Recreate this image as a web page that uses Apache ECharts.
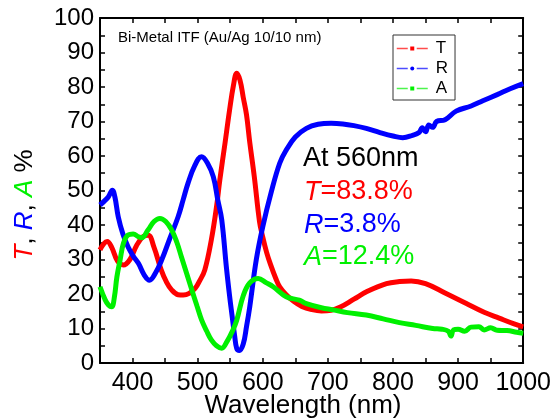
<!DOCTYPE html>
<html>
<head>
<meta charset="utf-8">
<script src="https://cdn.jsdelivr.net/npm/echarts@6/dist/echarts.min.js"></script>
<style>
  html, body { margin: 0; padding: 0; background: #fff; }
  #chart { width: 554px; height: 419px; }
</style>
</head>
<body>
<div id="chart"></div>
<script>
// values (wavelength nm / percent)
const seriesNames = ['T', 'R', 'A'];

const tWave = [350, 356, 361, 368, 377, 386, 396, 406, 416, 424, 433, 444, 452, 460, 470, 478, 487, 496, 503, 511, 521, 529, 534, 542, 549, 555, 560, 565, 570, 575, 580, 587, 595, 600, 606, 612, 620, 626, 636, 648, 660, 675, 690, 705, 720, 740, 760, 790, 810, 828, 850, 880, 912, 940, 963, 985, 1000];
const tPct  = [32.8, 34.6, 35.2, 33.5, 29.5, 28.4, 30, 34, 36.6, 37, 33.5, 27, 23.5, 21.2, 19.8, 19.7, 20.2, 21.6, 23.8, 27, 35.7, 45.3, 53, 63.7, 73.3, 80.5, 84, 82, 77, 72, 64, 54, 41, 36.5, 32, 28.5, 24.5, 22.1, 19.8, 17.8, 16.4, 15.5, 15.1, 15.3, 16.3, 18.5, 20.7, 23, 23.6, 23.8, 23, 20.3, 17.3, 14.7, 13, 11.4, 10.5];

const rWave = [350, 357, 363, 369, 373, 378, 385, 393, 401, 409, 418, 426, 435, 445, 457, 470, 478, 485, 495, 506, 515, 524, 531, 537, 544, 549, 553, 557, 560, 564, 570, 575, 580, 590, 600, 613, 626, 636, 650, 667, 685, 705, 723, 740, 759, 780, 800, 815, 830, 840, 845, 850, 855, 861, 867, 880, 897, 920, 938, 960, 980, 1000];
const rPct  = [45.8, 47, 48.2, 50.1, 48, 42.4, 37.5, 33.7, 31, 28.9, 25.5, 24, 26, 30, 36, 42.4, 47.5, 52, 57, 59.8, 58, 54, 47.2, 41.5, 28, 19.5, 13.5, 7.6, 4.2, 3.6, 5.5, 10.5, 16.3, 29.9, 39.5, 49.5, 57.9, 61.7, 65.5, 68, 69.2, 69.5, 69.3, 68.8, 68, 66.8, 65.8, 65.3, 66, 66.8, 68.2, 67, 69, 68.3, 70, 70.5, 73, 74.5, 76, 77.8, 79.5, 81];

const aWave = [350, 358, 363, 368, 372, 376, 381, 386, 393, 401, 409, 414, 424, 433, 442, 451, 460, 468, 475, 483, 491, 499, 506, 514, 521, 529, 537, 545, 554, 560, 570, 580, 593, 605, 616, 636, 656, 667, 690, 708, 730, 759, 785, 810, 835, 861, 875, 885, 889, 893, 900, 910, 920, 932, 940, 950, 960, 975, 990, 1000];
const aPct  = [22.1, 18.3, 16.8, 16.3, 19, 25, 30, 34.7, 37.1, 37.4, 36.6, 36.3, 38.6, 41, 41.9, 41, 38.6, 35, 30.8, 26, 21.2, 16.5, 12.5, 9.2, 6.7, 5, 4.3, 6.2, 9.5, 12.4, 19.5, 23.2, 24.5, 23.3, 22.1, 19.2, 18.2, 17.2, 16, 15.4, 14.6, 13.9, 12.8, 11.7, 10.9, 10, 9.8, 9.2, 7.8, 9.6, 9.8, 9.2, 10.4, 10.5, 9.6, 10.2, 9.5, 9.4, 8.9, 8.6];

const colors = ['#ff0000', '#0000ff', '#00f000'];
const font = 'Liberation Sans';

function pairs(xs, ys) {
  return xs.map((x, i) => [x, ys[i]]);
}

const chart = echarts.init(document.getElementById('chart'));

const tickStyle = { show: true, inside: true, length: 5, lineStyle: { color: '#000', width: 1.5 } };
const lineStyleAxis = { show: true, onZero: false, lineStyle: { color: '#000', width: 2 } };

function mkSeries(name, data, color, symbol) {
  return {
    name: name,
    type: 'line',
    data: data,
    smooth: 0.4,
    symbol: symbol,
    showSymbol: false,
    color: color,
    lineStyle: { width: 5, color: color },
    itemStyle: { color: color },
    xAxisIndex: 0,
    yAxisIndex: 0,
    animation: false
  };
}

const option = {
  animation: false,
  backgroundColor: '#fff',
  grid: { left: 100, right: 30, top: 18, bottom: 56, containLabel: false },
  legend: {
    data: seriesNames,
    orient: 'vertical',
    left: 393,
    top: 35,
    padding: [5, 7, 3, 3],
    itemGap: 3,
    itemWidth: 31,
    itemHeight: 5,
    borderColor: '#333',
    borderWidth: 1,
    backgroundColor: '#fff',
    selectedMode: false,
    lineStyle: { width: 1.5, type: [11, 9], opacity: 0.7 },
    textStyle: { fontFamily: font, fontSize: 17, color: '#000', padding: [0, 0, 0, 3] }
  },
  xAxis: [
    {
      type: 'value', min: 350, max: 1000, interval: 50, position: 'bottom',
      axisLine: lineStyleAxis, axisTick: tickStyle, splitLine: { show: false },
      axisLabel: {
        margin: 8, fontFamily: font, fontSize: 25, color: '#000',
        formatter: v => (v % 100 === 0 ? String(v) : '')
      }
    },
    {
      type: 'value', min: 350, max: 1000, interval: 50, position: 'top',
      axisLine: lineStyleAxis, axisTick: tickStyle, splitLine: { show: false },
      axisLabel: { show: false }
    }
  ],
  yAxis: [
    {
      type: 'value', min: 0, max: 100, interval: 5, position: 'left',
      axisLine: lineStyleAxis, axisTick: tickStyle, splitLine: { show: false },
      axisLabel: {
        margin: 6, fontFamily: font, fontSize: 24, color: '#000',
        formatter: v => (v % 10 === 0 ? String(v) : '')
      }
    },
    {
      type: 'value', min: 0, max: 100, interval: 5, position: 'right',
      axisLine: lineStyleAxis, axisTick: tickStyle, splitLine: { show: false },
      axisLabel: { show: false }
    }
  ],
  series: [
    mkSeries(seriesNames[0], pairs(tWave, tPct), colors[0], 'rect'),
    mkSeries(seriesNames[1], pairs(rWave, rPct), colors[1], 'circle'),
    mkSeries(seriesNames[2], pairs(aWave, aPct), colors[2], 'rect')
  ],
  graphic: [
    {
      type: 'text', x: 118, y: 38,
      style: { text: 'Bi-Metal ITF (Au/Ag 10/10 nm)', fontFamily: font, fontSize: 15, fill: '#000', align: 'left', verticalAlign: 'middle' }
    },
    {
      type: 'text', x: 303, y: 159,
      style: { text: 'At 560nm', fontFamily: font, fontSize: 27, fill: '#000', align: 'left', verticalAlign: 'middle' }
    },
    {
      type: 'text', x: 304, y: 192,
      style: {
        text: '{i|T}=83.8%', fontFamily: font, fontSize: 27, fill: colors[0], align: 'left', verticalAlign: 'middle',
        rich: { i: { fontStyle: 'italic', fontFamily: font, fontSize: 27, fill: colors[0] } }
      }
    },
    {
      type: 'text', x: 304, y: 225,
      style: {
        text: '{i|R}=3.8%', fontFamily: font, fontSize: 27, fill: colors[1], align: 'left', verticalAlign: 'middle',
        rich: { i: { fontStyle: 'italic', fontFamily: font, fontSize: 27, fill: colors[1] } }
      }
    },
    {
      type: 'text', x: 304, y: 257,
      style: {
        text: '{i|A}=12.4%', fontFamily: font, fontSize: 27, fill: colors[2], align: 'left', verticalAlign: 'middle',
        rich: { i: { fontStyle: 'italic', fontFamily: font, fontSize: 27, fill: colors[2] } }
      }
    },
    {
      type: 'text', x: 303, y: 406,
      style: { text: 'Wavelength (nm)', fontFamily: font, fontSize: 26, fill: '#000', align: 'center', verticalAlign: 'middle' }
    },
    {
      type: 'text', x: 25, y: 205, rotation: Math.PI / 2,
      style: {
        text: '{t|T}{k|, }{r|R}{k|, }{a|A}{k| %}', fontFamily: font, fontSize: 26, fill: '#000', align: 'center', verticalAlign: 'middle',
        rich: {
          t: { fontStyle: 'italic', fontFamily: font, fontSize: 26, fill: colors[0] },
          r: { fontStyle: 'italic', fontFamily: font, fontSize: 26, fill: colors[1] },
          a: { fontStyle: 'italic', fontFamily: font, fontSize: 26, fill: colors[2] },
          k: { fontFamily: font, fontSize: 26, fill: '#000' }
        }
      }
    }
  ]
};

chart.setOption(option);
</script>
</body>
</html>
